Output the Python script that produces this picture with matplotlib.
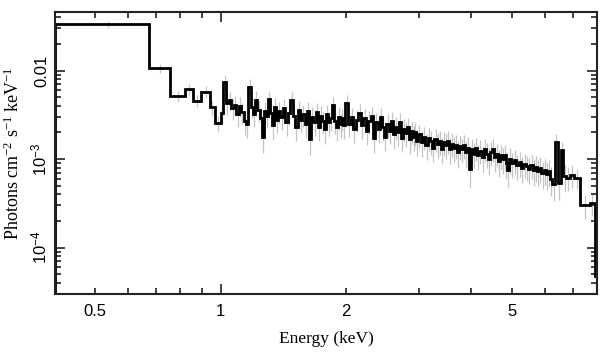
import numpy as np
import matplotlib.pyplot as plt
from matplotlib.ticker import FixedLocator, FuncFormatter, NullFormatter

# Unfolded spectrum, bin edges in keV
edges = [0.40, 0.671, 0.757, 0.819, 0.858, 0.899, 0.944, 0.967,
         1.000, 1.015, 1.030, 1.045, 1.060, 1.075, 1.090, 1.105, 1.120, 1.135,
         1.150, 1.165, 1.180, 1.195, 1.210, 1.225, 1.240, 1.255, 1.270, 1.285,
         1.300, 1.315, 1.330, 1.345, 1.360, 1.375, 1.390,
         1.41, 1.43, 1.45, 1.47, 1.49, 1.51, 1.53, 1.55, 1.57, 1.59,
         1.61, 1.63, 1.65, 1.67, 1.69, 1.71, 1.73, 1.75, 1.77, 1.79,
         1.81, 1.83, 1.85, 1.87, 1.89, 1.91, 1.93, 1.95, 1.97, 1.99,
         2.02, 2.05, 2.08, 2.11, 2.14, 2.17, 2.20, 2.23, 2.26, 2.29,
         2.32, 2.35, 2.38, 2.41, 2.44, 2.47, 2.50, 2.53, 2.56, 2.59,
         2.62, 2.65, 2.68, 2.71, 2.74, 2.77, 2.80, 2.83, 2.86, 2.89,
         2.92, 2.95, 2.98,
         3.02, 3.06, 3.10, 3.14, 3.18, 3.22, 3.26, 3.30, 3.34, 3.38,
         3.42, 3.46, 3.50, 3.54, 3.58, 3.62, 3.66, 3.70, 3.74, 3.78,
         3.82, 3.86, 3.90, 3.94, 3.98,
         4.03, 4.08, 4.13, 4.18, 4.23, 4.28, 4.33, 4.38, 4.43, 4.48,
         4.53, 4.58, 4.63, 4.68, 4.73, 4.78, 4.83, 4.88, 4.93, 4.98,
         5.05, 5.12, 5.19, 5.26, 5.33, 5.40, 5.47, 5.54, 5.61, 5.68,
         5.75, 5.82, 5.89, 5.96, 6.03, 6.10, 6.17, 6.25,
         6.35, 6.45, 6.55, 6.65, 6.75, 6.90, 7.05, 7.29, 7.70, 7.90, 8.00]

# photons cm^-2 s^-1 keV^-1, in units of 1e-3
flux = [33.4, 10.6, 5.16, 6.18, 4.57, 5.77, 3.85, 2.54,
        3.3, 7.5, 4.3, 4.6, 3.8, 4.1, 3.2, 4.0, 3.4, 2.7,
        2.5, 6.6, 3.9, 3.2, 4.7, 3.6, 2.9, 1.8, 3.5, 3.1,
        4.8, 3.3, 2.4, 3.9, 2.8, 3.5,
        3.0, 3.8, 2.6, 3.3, 4.7, 3.1, 2.3, 3.6, 2.8, 3.2,
        2.5, 3.5, 1.7, 3.0, 2.6, 3.4, 2.3, 3.1, 2.7, 2.2,
        3.2, 2.6, 2.9, 4.1, 2.7, 2.3, 3.0, 2.5, 2.9, 2.4,
        4.3, 2.5, 3.0, 2.2, 2.8, 3.3, 2.4, 2.9, 2.1, 2.7,
        3.1, 1.75, 2.6, 2.2, 3.0, 2.3, 1.8, 2.5, 2.1, 2.7,
        1.9, 2.3, 2.0, 2.6, 1.75, 2.2, 1.95, 2.3, 1.7, 2.1,
        1.8, 2.0, 1.6,
        1.9, 1.55, 1.8, 1.45, 1.75, 1.6, 1.35, 1.7, 1.5, 1.6,
        1.3, 1.55, 1.45, 1.6, 1.3, 1.5, 1.35, 1.45, 1.2, 1.4,
        1.3, 1.45, 1.2, 1.35, 0.78,
        1.3, 1.15, 1.35, 1.1, 1.25, 1.05, 1.3, 1.15, 1.0, 1.2,
        1.3, 1.05, 1.15, 0.95, 1.1, 1.0, 1.1, 0.9, 0.75, 1.0,
        0.9, 0.98, 0.85, 0.92, 0.8, 0.88, 0.83, 0.78, 0.86, 0.75,
        0.82, 0.74, 0.8, 0.7, 0.76, 0.68, 0.74, 0.6,
        0.53, 1.58, 0.54, 1.27, 0.65, 0.62, 0.66, 0.62, 0.305, 0.32, 0.048]

# relative 1-sigma errors
rel_err = [0.10, 0.12, 0.15, 0.15, 0.16, 0.15, 0.18, 0.20,
           0.24, 0.20, 0.26, 0.24, 0.27, 0.25, 0.28, 0.25, 0.27, 0.30,
           0.31, 0.21, 0.26, 0.28, 0.24, 0.27, 0.29, 0.34, 0.27, 0.28,
           0.22, 0.28, 0.31, 0.25, 0.29, 0.27,
           0.28, 0.25, 0.30, 0.27, 0.22, 0.28, 0.31, 0.26, 0.29, 0.27,
           0.30, 0.26, 0.34, 0.28, 0.30, 0.26, 0.31, 0.28, 0.29, 0.32,
           0.27, 0.30, 0.28, 0.23, 0.29, 0.31, 0.28, 0.30, 0.28, 0.30,
           0.22, 0.29, 0.27, 0.31, 0.28, 0.26, 0.29, 0.27, 0.31, 0.28,
           0.26, 0.33, 0.28, 0.30, 0.27, 0.30, 0.32, 0.28, 0.30, 0.27,
           0.31, 0.29, 0.30, 0.27, 0.32, 0.29, 0.30, 0.28, 0.32, 0.29,
           0.31, 0.30, 0.32,
           0.29, 0.31, 0.29, 0.32, 0.29, 0.30, 0.32, 0.29, 0.31, 0.30,
           0.32, 0.30, 0.31, 0.29, 0.32, 0.30, 0.31, 0.30, 0.33, 0.30,
           0.31, 0.30, 0.33, 0.31, 0.40,
           0.30, 0.31, 0.29, 0.32, 0.30, 0.32, 0.29, 0.31, 0.33, 0.30,
           0.29, 0.32, 0.30, 0.33, 0.31, 0.32, 0.31, 0.33, 0.36, 0.32,
           0.32, 0.30, 0.32, 0.31, 0.33, 0.31, 0.32, 0.33, 0.31, 0.33,
           0.32, 0.33, 0.32, 0.34, 0.32, 0.34, 0.33, 0.36,
           0.36, 0.22, 0.36, 0.24, 0.32, 0.30, 0.29, 0.26, 0.30, 0.28, 0.40]

edges = np.array(edges)
flux = np.array(flux) * 1e-3
rel_err = np.array(rel_err)
centers = 0.5 * (edges[:-1] + edges[1:])

plt.rcParams['font.family'] = ['Liberation Sans', 'DejaVu Sans']
plt.rcParams['mathtext.fontset'] = 'custom'
plt.rcParams['mathtext.rm'] = 'Liberation Serif'
plt.rcParams['mathtext.it'] = 'Liberation Serif:italic'
plt.rcParams['mathtext.sf'] = 'Liberation Sans'

fig = plt.figure(figsize=(6.09, 3.57), dpi=100)
ax = fig.add_axes([0.0903, 0.1765, 0.8897, 0.7895])

ax.vlines(centers, flux * (1 - rel_err), flux * (1 + rel_err),
          color='#c4c4c4', lw=0.9, zorder=1)
ax.stairs(flux, edges, color='black', lw=2.0, zorder=2)

ax.set_xscale('log')
ax.set_yscale('log')
ax.set_xlim(0.4, 8.0)
ax.set_ylim(3.0e-5, 0.0457)

ax.xaxis.set_major_locator(FixedLocator([1.0]))
ax.xaxis.set_minor_locator(FixedLocator([0.4, 0.5, 0.6, 0.7, 0.8, 0.9, 2, 3, 4, 5, 6, 7, 8]))
ax.xaxis.set_major_formatter(FuncFormatter(lambda v, p: '1'))
ax.xaxis.set_minor_formatter(FuncFormatter(
    lambda v, p: {0.5: '0.5', 2: '2', 5: '5'}.get(round(v, 2), '')))

ax.yaxis.set_major_locator(FixedLocator([1e-4, 1e-3, 1e-2]))
ax.yaxis.set_minor_locator(FixedLocator(
    [k * 10.0 ** d for d in (-5, -4, -3, -2) for k in range(2, 10)]))
ylabels = {-2: '0.01', -3: r'$\mathsf{10^{-3}}$', -4: r'$\mathsf{10^{-4}}$'}
ax.yaxis.set_major_formatter(FuncFormatter(
    lambda v, p: ylabels[int(round(np.log10(v)))]))
ax.yaxis.set_minor_formatter(NullFormatter())

ax.tick_params(which='both', direction='in', top=True, right=True,
               labelsize=12, width=1.2, color='#222222')
ax.tick_params(which='major', length=7)
ax.tick_params(which='minor', length=4)
ax.tick_params(axis='x', which='both', pad=7)
ax.tick_params(axis='y', which='both', pad=4)
plt.setp(ax.get_yticklabels(), rotation=90, va='center')
for s in ax.spines.values():
    s.set_linewidth(1.5)
    s.set_color('#222222')

ax.set_xlabel('Energy (keV)', family='Liberation Serif', fontsize=12.5, labelpad=9)
ax.set_ylabel(r'Photons cm$^{-2}$ s$^{-1}$ keV$^{-1}$', family='Liberation Serif',
              fontsize=13, labelpad=5)

fig.savefig('out.png', dpi=100)
